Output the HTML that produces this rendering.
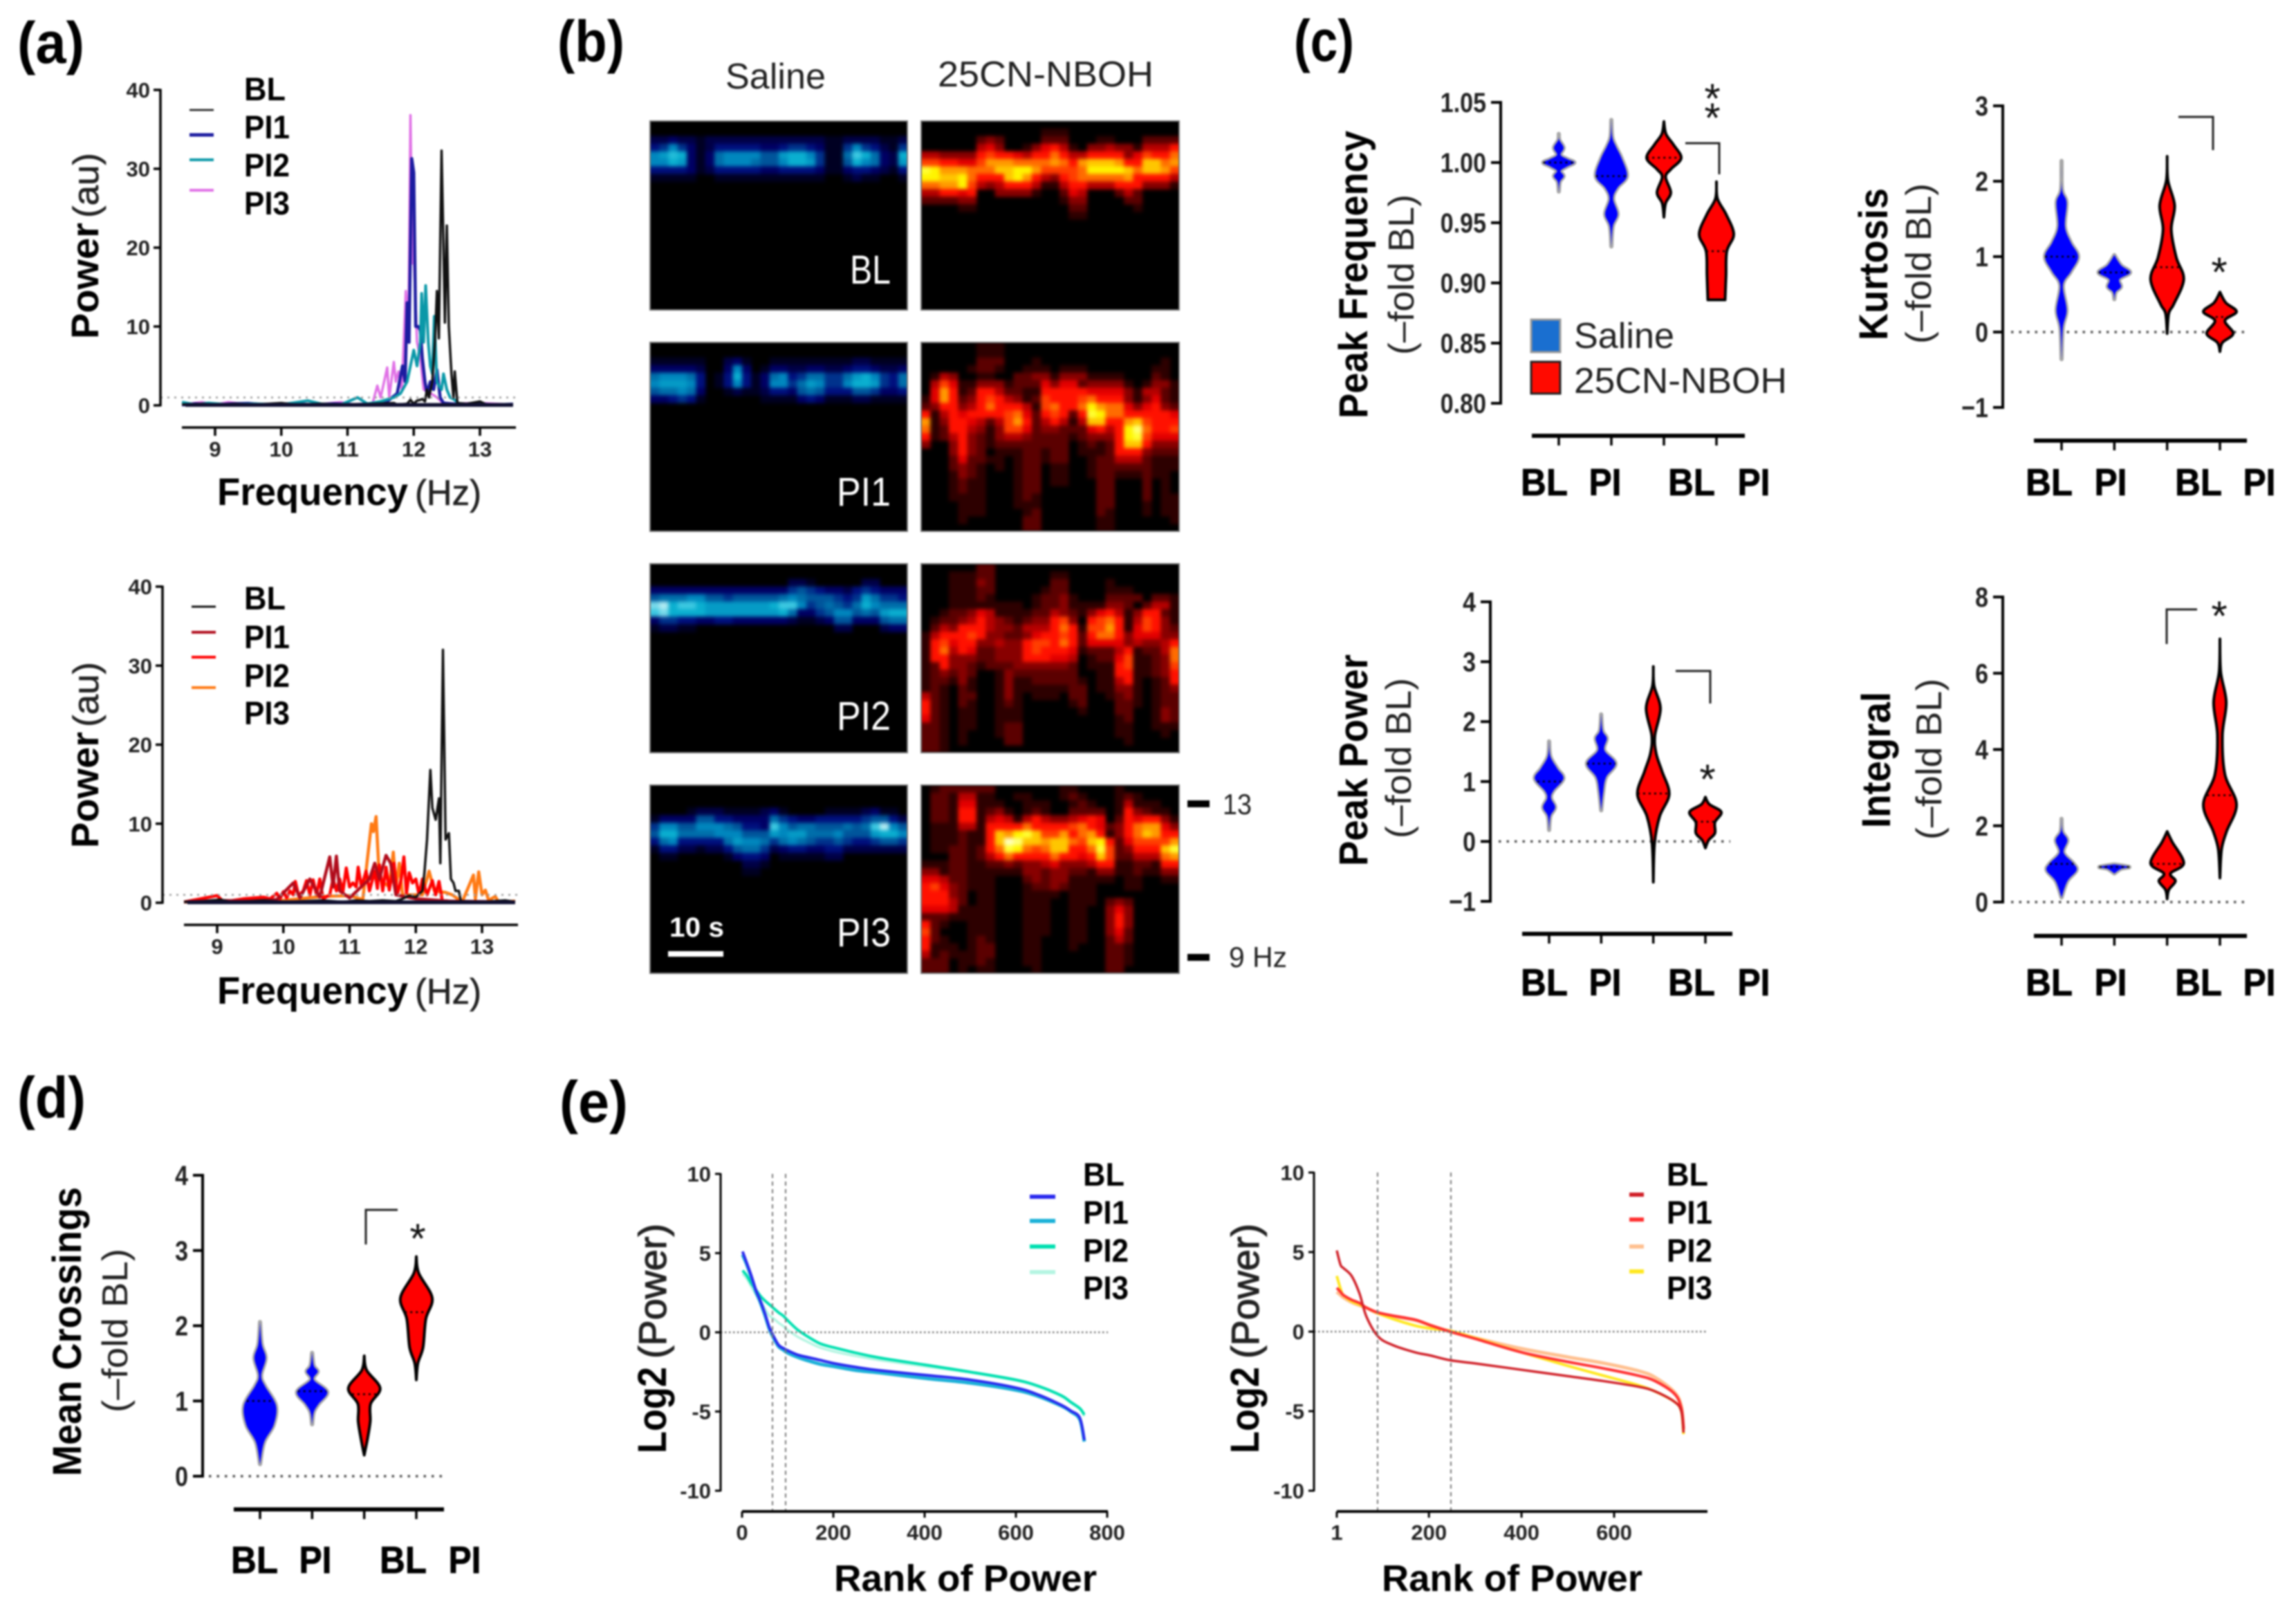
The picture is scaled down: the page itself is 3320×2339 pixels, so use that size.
<!DOCTYPE html>
<html lang="en">
<head>
<meta charset="utf-8">
<title>Spectral power figure with panels a to e</title>
<style>
html,body{margin:0;padding:0;background:#fff;}
#figure{display:block;width:3320px;height:2339px;background:#fff;filter:blur(1.2px);}
text{font-family:"Liberation Sans",sans-serif;}
</style>
</head>
<body>
<svg id="figure" xmlns="http://www.w3.org/2000/svg" width="3320" height="2339" viewBox="0 0 3320 2339"></svg>
<script>
/* ---------- panel (a) spectra: [frequency Hz, power au] ---------- */
const freqTicks = [9,10,11,12,13];
const powerTicks = [0,10,20,30,40];
const a1BL = [[8.5,.1],[8.8,.2],[9,.1],[9.3,.2],[9.6,.1],[10,.3],[10.2,.1],[10.6,.2],[11,.1],[11.4,.2],[11.7,.3],[11.75,.1],[11.9,.2],[11.95,.7],[12,.2],[12.05,.6],[12.1,.7],[12.13,.8],[12.17,.5],[12.2,2],[12.23,1],[12.28,3],[12.32,8],[12.35,14.5],[12.38,8.5],[12.42,32.3],[12.45,20],[12.47,10.5],[12.5,22.8],[12.53,10],[12.57,4],[12.6,1],[12.62,4.3],[12.66,.3],[12.8,.2],[13,.5],[13.1,.1],[13.5,.1]];
const a1PI1 = [[8.5,.05],[8.7,.2],[9,.05],[9.25,.2],[9.5,.25],[9.8,.05],[10.1,.2],[10.5,.1],[10.8,.2],[11.1,.1],[11.4,.2],[11.6,.5],[11.75,1.5],[11.83,5],[11.87,3],[11.9,13],[11.93,8],[11.97,31.3],[12,29.5],[12.03,10],[12.07,10],[12.1,9.5],[12.13,6],[12.17,3],[12.2,1.5],[12.25,3],[12.3,2],[12.35,4.5],[12.4,1],[12.45,.3],[12.7,.1],[13,.2],[13.2,.05],[13.5,.15]];
const a1PI2 = [[8.5,.4],[8.7,.1],[8.9,.3],[9.2,.1],[9.6,.2],[10,.1],[10.4,.6],[10.6,.2],[10.9,.1],[11.15,1],[11.3,.2],[11.5,.5],[11.7,1],[11.8,1.5],[11.9,3],[11.95,5],[12,7],[12.05,5],[12.1,8],[12.12,14.2],[12.15,8],[12.18,15.2],[12.22,8],[12.25,5],[12.28,4],[12.31,11.3],[12.35,3],[12.38,2.5],[12.42,2],[12.45,4],[12.5,2],[12.55,1],[12.6,.8],[12.7,.1],[13.5,.1]];
const a1PI3 = [[8.5,.1],[8.8,.4],[9,.1],[9.2,.4],[9.5,.1],[10,.2],[10.5,.1],[10.9,.4],[11.1,.1],[11.38,.3],[11.45,2.5],[11.5,1],[11.6,4.8],[11.63,1],[11.7,5.5],[11.73,3],[11.77,4.3],[11.82,2],[11.88,14.5],[11.92,10],[11.95,36.8],[11.98,18],[12,19],[12.05,8],[12.1,6],[12.15,2],[12.3,1.3],[12.35,1],[12.45,.2],[13,.3],[13.5,.1]];
const a2BL = [[8.5,.1],[8.8,.2],[9.05,.4],[9.2,.1],[9.5,.2],[9.7,.3],[10,.1],[10.3,.2],[10.6,.3],[10.9,.1],[11.1,.3],[11.3,.2],[11.5,.3],[11.7,.2],[11.8,.5],[11.9,.9],[12,.7],[12.1,1.5],[12.13,3.8],[12.17,8],[12.22,16.8],[12.25,12],[12.3,10.5],[12.35,13.2],[12.37,5],[12.41,32],[12.45,8],[12.5,8.8],[12.53,3],[12.57,2.5],[12.6,1.5],[12.65,1.5],[12.68,.2],[13,.1],[13.35,.3],[13.5,.1]];
const a2PI1 = [[8.5,.1],[9,.3],[9.5,.2],[9.9,.4],[10.15,2.5],[10.25,.6],[10.4,3],[10.55,.7],[10.7,5.8],[10.75,2],[10.8,5.9],[10.85,1.5],[11,.6],[11.3,3],[11.38,5],[11.45,3],[11.55,6],[11.62,5],[11.7,1],[12,.5],[12.5,.2],[13.5,.1]];
const a2PI2 = [[8.5,.1],[9,.9],[9.1,.1],[9.4,.5],[9.7,.7],[9.8,.5],[9.9,1.2],[9.95,.5],[10,1.4],[10.05,.6],[10.1,1.5],[10.15,1],[10.18,2.7],[10.23,.9],[10.3,1.5],[10.35,2.8],[10.4,1],[10.45,2.9],[10.5,1],[10.55,3],[10.6,.5],[10.7,1],[10.75,3],[10.8,1.5],[10.85,3],[10.9,1.4],[10.95,4.4],[11,2],[11.05,2.5],[11.1,2],[11.13,4.5],[11.18,2],[11.25,4],[11.3,1.5],[11.38,4],[11.42,1.8],[11.45,4.8],[11.5,1.5],[11.55,4.5],[11.6,1.6],[11.67,5],[11.72,1],[11.78,3],[11.82,5.8],[11.86,1.2],[11.9,3.8],[11.95,2.5],[12,3],[12.05,1],[12.1,3],[12.17,1],[12.25,2.8],[12.3,1],[12.35,2.7],[12.4,.3],[12.6,.1],[13.5,.1]];
const a2PI3 = [[8.5,.1],[9.5,.3],[10,.3],[10.6,.8],[11,.9],[11.2,.4],[11.33,10],[11.36,9],[11.4,10.9],[11.45,3],[11.6,2],[11.66,6.4],[11.7,2],[11.75,5],[11.8,1],[12.1,1],[12.2,4],[12.28,1.5],[12.45,1.3],[12.55,1],[12.7,.1],[12.87,3.5],[12.9,.5],[12.95,3.9],[13,1],[13.05,1.6],[13.1,.3],[13.2,.8],[13.25,.1],[13.5,.2]];

/* ---------- panel (b) spectrograms, hex level per cell ---------- */
const salineBL = ["","",
"2232 2122 2222 2222 2221 1222 2112","4585 3124 4444 3345 5431 1585 4215","89ba 3137 8888 669a a851 17ca 732a","88a9 3137 8887 668a a951 16a8 7329","4444 3124 4444 3344 4431 1344 3214","1111 1001 1111 1111 1110 0121 1001"];
const salinePI1 = ["","",
"1111 1100 2310 0111 1111 1122 1111","3333 3200 3830 1332 2332 2344 3223","7888 7401 4a41 3784 5775 579a 8547","8999 8401 4841 3885 7985 58aa 9547","6778 7300 1211 2443 6764 4466 5334","3345 4100 0000 1111 3431 1122 1111"];
const salinePI2 = ["","",
"0000 0000 0000 0002 2100 0002 2000","3333 3333 3333 3335 6543 3245 4333","6777 8866 5666 6678 7666 5459 7554","deac ca99 9999 9acc 8567 657a 8777","cdaa aa99 9999 99a7 3356 8867 69aa","3554 4334 4333 3332 1123 6633 3677","1221 1000 0000 0000 0000 2200 0233"];
const salinePI3 = ["","","",
"0000 1222 1111 2310 0001 1112 3110","1333 3664 4333 3754 3344 4445 6642","5886 6888 7644 3c86 7766 6767 ce86","6aa7 7778 8866 6989 9777 8666 9aa8","4784 4444 7988 7578 7655 6544 5665","1442 2122 4677 5234 4334 4222 2222","0110 0000 1344 3011 1112 2000 0000","0000 0000 0022 1000 0000 0000 0000","0000 0000 0011 0000 0000 0000 0000"];
const drugBL = ["",
"0000 0000 0000 0111 0000 0000 0000","0000 0023 2000 0222 0001 1000 2222","0000 0045 3001 3564 1033 4331 4446","4433 3367 6654 6686 4466 6635 7668","7766 5579 9988 8898 69aa a966 aa89","cb99 9888 aabb 9777 78bb bba8 aa97","bbaa b866 6ab9 6436 7888 8896 6664","8899 b743 4666 4114 6644 4666 3331","4466 5600 3333 1002 5400 0242 0000","2222 3300 0000 0001 3300 0022 0000","0000 1100 0000 0000 2200 0001 0000","0000 0000 0000 0000 1100 0000 0000"];
const drugPI1 = [
"0000 0011 1000 0000 0000 0000 0000","0000 0011 1000 0000 0000 0000 0000","0000 0022 2000 1000 0000 0000 0010","0000 0122 1001 1101 1100 0000 0110","0143 0011 0022 3313 3311 1100 0210","0475 1133 3122 2535 5233 3310 1331","0596 1266 4221 1666 6655 5531 4421","1596 2367 6431 2766 6786 6631 3521","2366 3468 6664 1786 68b9 8853 5632","6146 5666 6785 2676 26cb 8866 6665","9136 6542 4796 2464 14aa 669a 7666","8126 6431 3775 2332 2256 46bd 8667","6124 6321 3443 2222 1233 36bc 7555","3003 6321 2222 2222 0121 26aa 6333","0003 6320 1112 2122 0111 2666 3222","0002 5221 1012 2122 0012 2444 2111","0002 3210 1012 2011 0012 2222 2111","0001 3210 0012 2011 0012 2111 2110","0001 2110 0012 2011 0002 2000 2010","0001 2110 0012 2000 0002 2000 2010","0001 1110 0012 1000 0002 2000 2011","0000 1110 0011 1000 0002 2000 1011","0000 1110 0001 2000 0002 1000 1011","0000 1000 0002 2000 0001 1000 0001","0000 0000 0002 2000 0001 1000 0000"];
const drugPI2 = [
"0000 0022 0000 0000 0000 0000 0000","0001 1122 0000 0011 0000 0000 0000","0001 1132 0000 0022 0000 1000 0000","0001 1122 0000 0122 0000 1110 0000","0001 1121 0000 1223 1000 2222 0221","0001 1111 1110 1223 1111 3320 2441","0012 2354 1111 2243 2135 6413 6621","0122 3464 3212 3367 3067 8614 7631","0243 6664 3324 4468 6177 9615 7632","1466 6763 3223 5667 6268 8635 5533","1675 6633 4336 7768 6255 5534 3346","1684 6522 3336 7666 5122 2461 2248","1663 3322 3336 6655 4012 2571 1238","1263 3212 2233 3333 2011 1671 1237","1232 3200 1322 2222 2001 1661 1236","1221 3100 1311 2222 2101 1461 0126","1210 2100 1311 1111 2201 1331 0123","4210 2200 1310 1110 2200 1231 0122","6210 2100 1210 0000 1200 0221 0122","6210 1100 1110 0000 0100 0220 0132","5210 1100 1110 0000 0000 0120 0132","2210 1100 1220 0000 0000 0110 0111","2210 1000 1220 0000 0000 0110 0010","2210 1000 0220 0000 0000 0010 0000","2210 0000 0000 0000 0000 0000 0000"];
const drugPI3 = [
"0122 2222 0000 0001 1000 0100 0000","0221 4411 0011 0001 2100 0121 0000","0221 5511 1001 1100 1210 0141 1100","0221 6612 3101 2100 2222 0163 2110","0221 6614 5414 6433 4565 0265 6631","0111 4416 6668 6666 7865 2368 9953","0111 2116 a9bc a779 6896 1368 a966","0111 2116 aeda a9aa 87ab 6257 7779","0112 2126 8cb8 78aa 668c 7236 66ac","0002 2124 6866 6686 656a 7224 4489","1112 2112 2323 3453 3346 6112 2166","3312 2111 1113 3233 2213 3112 1133","5542 2111 0002 3233 1111 1011 0011","6753 2111 0001 2232 1110 0011 0000","6663 2011 0001 1110 1110 0000 0000","6664 2011 0001 1100 1110 2320 0000","5554 1111 0001 1100 1100 3530 0000","2221 1111 0001 1100 1100 3630 0000","6210 0111 0001 1100 1100 3630 0000","7200 0111 0001 1100 1100 3520 0000","6210 0121 0001 1000 1100 2420 0000","6111 0122 0001 1000 1000 2210 0000","4121 1122 0001 1000 0000 2210 0000","2220 1121 0001 1000 0000 2210 0000","2220 1011 0000 1000 0000 2200 0000"];

/* ---------- violin data: sampled value + relative density per group ---------- */
const groupLabels = ["BL","PI","BL","PI"];
const freqFoldTicks = ["0.80","0.85","0.90","0.95","1.00","1.05"];
const freqFoldTickValues = [.8,.85,.9,.95,1,1.05];
const peakFreqValues = [
 [1.0238,1.0187,1.0123,1.0064,1.0028,1,.9969,.9931,.9887,.984,.9759],
 [1.0354,1.0213,1.0136,1.0033,.9887,.979,.97,.9572,.9469,.9303],
 [1.0341,1.0238,1.0149,1.0038,.9944,.988,.9751,.9662,.9546],
 [.9841,.97,.9572,.9405,.9264,.9059,.8859]];
const peakFreqDensity = [
 [0,.03,.28,.1,.5,.9,.5,.1,.28,.06,0],
 [0,.05,.25,.6,.9,.35,.1,.36,.08,0],
 [0,.12,.55,1,.4,.1,.4,.1,0],
 [0,.06,.55,1,.6,.55,.5]];
const peakFreqMedians = [1,.9887,1.004,.9264];

const kurtosisTicks = ["−1","0","1","2","3"];
const kurtosisTickValues = [-1,0,1,2,3];
const kurtosisValues = [
 [2.27,1.89,1.72,1.4,1.19,1,.8,.62,.29,.05,-.36],
 [1.02,.885,.79,.7,.6,.53,.435],
 [2.33,2.01,1.68,1.36,.99,.7,.37,.25,-.02],
 [.53,.39,.27,.15,-.02,-.14,-.26]];
const kurtosisDensity = [
 [0,.03,.3,.2,.55,1,.55,.08,.3,.07,0],
 [0,.4,.95,.3,.4,.08,0],
 [0,.05,.45,.25,.55,1,.4,.1,0],
 [0,.35,1,.3,.8,.15,0]];
const kurtosisMedians = [1,.79,.86,.2];

const peakPowerTicks = ["−1","0","1","2","3","4"];
const peakPowerTickValues = [-1,0,1,2,3,4];
const peakPowerValues = [
 [1.67,1.42,1.22,1.05,.84,.72,.57,.42,.19],
 [2.12,1.85,1.72,1.52,1.3,1.07,.82,.52],
 [2.92,2.6,2.22,1.77,1.47,1.17,.79,.42,-.03,-.68],
 [.74,.62,.49,.32,.14,.02,-.11]];
const peakPowerDensity = [
 [0,.08,.5,.9,.25,.12,.38,.08,0],
 [0,.08,.35,.2,.9,.3,.12,0],
 [0,.05,.45,.1,.18,.55,1,.4,.08,0],
 [0,.25,1,.6,.6,.2,0]];
const peakPowerMedians = [1,1.3,.8,.33];

const integralTicks = ["0","2","4","6","8"];
const integralTickValues = [0,2,4,6,8];
const integralValues = [
 [2.18,1.85,1.62,1.3,1.02,.83,.55,.12],
 [.985,.92,.87,.75],
 [1.85,1.58,1.02,.75,.55,.32,.08],
 [6.9,6.03,5.24,4.37,3.35,2.56,1.85,1.38,.63]];
const integralDensity = [
 [0,.05,.35,.12,.7,.9,.35,0],
 [.05,.9,.4,0],
 [0,.3,1,.2,.5,.1,0],
 [0,.05,.38,.15,.3,1,.4,.1,0]];
const integralMedians = [1,.92,1,2.8];

const crossingsTicks = ["0","1","2","3","4"];
const crossingsTickValues = [0,1,2,3,4];
const crossingsValues = [
 [2.05,1.76,1.57,1.34,1.2,.94,.68,.45,.16],
 [1.64,1.47,1.39,1.28,1.12,.96,.85,.69],
 [1.6,1.41,1.17,.96,.73,.49,.28],
 [2.92,2.7,2.37,2.09,1.71,1.5,1.28]];
const crossingsDensity = [
 [0,.1,.35,.07,.3,1,.85,.25,0],
 [0,.1,.35,.1,.95,.4,.1,0],
 [0,.15,1,.4,.38,.2,0],
 [0,.15,1,.6,.42,.1,0]];
const crossingsMedians = [1,1.13,1.09,2.18];

/* ---------- panel (e) ranked power ---------- */
const log2Ticks = ["-10","-5","0","5","10"];
const log2TickValues = [-10,-5,0,5,10];
const salineRankTicks = [0,200,400,600,800];
const drugRankTicks = [1,200,400,600];
const salineRanks = [1,10,20,30,40,50,60,70,80,90,100,120,140,170,200,250,300,400,500,600,650,700,720,740,750];
const salineRankBL = [5.1,4.4,3.6,2.7,2,1.2,.3,-.3,-.8,-1,-1.15,-1.4,-1.55,-1.75,-1.95,-2.2,-2.4,-2.7,-3,-3.5,-3.95,-4.6,-4.95,-5.4,-6.8];
const salineRankPI1 = [4.9,4.3,3.5,2.6,1.9,1.1,.2,-.4,-.9,-1.1,-1.3,-1.55,-1.75,-2,-2.15,-2.4,-2.55,-2.9,-3.2,-3.65,-4.05,-4.65,-5,-5.5,-6.9];
const salineRankPI2 = [3.9,3.6,3.1,2.7,2.3,2,1.75,1.5,1.25,1.05,.75,.2,-.2,-.7,-.95,-1.3,-1.6,-2.05,-2.5,-3,-3.4,-4,-4.4,-4.8,-5.2];
const salineRankPI3 = [3.7,3.4,2.9,2.4,2,1.5,1.05,.85,.6,.4,.15,-.25,-.55,-.95,-1.2,-1.5,-1.75,-2.15,-2.55,-3.05,-3.45,-4.05,-4.45,-4.85,-5.3];
const drugRanks = [1,9,15,33,50,65,90,122,170,203,246,300,400,500,575,650,688,730,745,750];
const drugRankBL = [5.1,4.2,4,3.5,2.4,.95,-.3,-.85,-1.3,-1.5,-1.8,-2,-2.4,-2.8,-3.1,-3.45,-3.75,-4.4,-5,-6.35];
const drugRankPI1 = [2.75,2.5,2.3,2,1.8,1.5,1.2,1,.75,.4,0,-.45,-1.3,-1.9,-2.3,-2.75,-3.1,-3.9,-4.8,-6.1];
const drugRankPI2 = [2.5,2.3,2.15,1.85,1.65,1.5,1.15,.95,.72,.4,0,-.4,-1.07,-1.6,-1.97,-2.45,-2.87,-3.8,-4.7,-6.2];
const drugRankPI3 = [3.5,2.7,2.3,1.9,1.7,1.5,1.15,.8,.38,.2,.05,-.4,-1.3,-2.15,-2.75,-3.35,-3.75,-4.4,-5,-6.45];

/* ---------- helpers ---------- */
const NS = "http://www.w3.org/2000/svg";
const root = document.getElementById("figure");
function mk(tag, attrs, name, parent) {
  const el = document.createElementNS(NS, tag);
  for (const k in attrs) el.setAttribute(k, attrs[k]);
  
  
  (parent || root).appendChild(el);
  return el;
}
function txt(str, x, y, name, o) {
  o = o || {};
  const a = {x: x, y: y, "font-size": o.size || 30, "font-weight": o.weight || "normal", fill: o.fill || "#000", "text-anchor": o.anchor || "start"};
  if (o.rot) a.transform = "rotate(" + o.rot + " " + x + " " + y + ")";
  if (o.len) { a.textLength = o.len; a.lengthAdjust = "spacingAndGlyphs"; }
  if (o.heavy) { a.stroke = o.fill || "#000"; a["stroke-width"] = o.heavy; }
  const el = mk("text", a, name, o.parent);
  el.textContent = str;
  return el;
}
function line(x1, y1, x2, y2, name, o) {
  o = o || {};
  const a = {x1: x1, y1: y1, x2: x2, y2: y2, stroke: o.stroke || "#000", "stroke-width": o.w || 3};
  if (o.dash) a["stroke-dasharray"] = o.dash;
  return mk("line", a, name, o.parent);
}
function lin(d0, d1, r0, r1) { return function (v) { return r0 + (v - d0) * (r1 - r0) / (d1 - d0); }; }
function smooth(pts) {
  let d = "M" + pts[0][0].toFixed(1) + " " + pts[0][1].toFixed(1);
  for (let i = 0; i < pts.length - 1; i++) {
    const p0 = pts[i - 1] || pts[i], p1 = pts[i], p2 = pts[i + 1], p3 = pts[i + 2] || p2;
    d += "C" + (p1[0] + (p2[0] - p0[0]) / 6).toFixed(1) + " " + (p1[1] + (p2[1] - p0[1]) / 6).toFixed(1) + " " +
      (p2[0] - (p3[0] - p1[0]) / 6).toFixed(1) + " " + (p2[1] - (p3[1] - p1[1]) / 6).toFixed(1) + " " +
      p2[0].toFixed(1) + " " + p2[1].toFixed(1);
  }
  return d;
}
function star(cx, cy) {
  txt("*", cx, cy + 29, "significance-star", {size: 60, anchor: "middle", fill: "#111"});
}
function labelWidth(str) {
  let w = 0;
  for (const ch of str) w += ch === "." ? 9.5 : ch === "−" ? 19.9 : 18.9;
  return w;
}

/* panel letters */
txt("(a)", 25, 91, "panel-label-a", {size: 84, weight: "bold", len: 97});
txt("(b)", 806, 89, "panel-label-b", {size: 84, weight: "bold", len: 97});
txt("(c)", 1871, 88, "panel-label-c", {size: 84, weight: "bold", len: 87});
txt("(d)", 25, 1616, "panel-label-d", {size: 84, weight: "bold", len: 99});
txt("(e)", 809, 1622, "panel-label-e", {size: 84, weight: "bold", len: 99});

/* ---------- panel a ---------- */
function spectrum(c) {
  const g = mk("g", {}, c.id, root);
  const X = lin(9, 13, c.x9, c.x9 + 383), Y = lin(0, 40, c.y0, c.y40);
  c.series.forEach(function (s) {
    const pts = s.data.map(function (p) { return X(p[0]).toFixed(1) + "," + Y(p[1]).toFixed(1); }).join(" ");
    mk("polyline", {points: pts, fill: "none", stroke: s.color, "stroke-width": s.w, "stroke-linejoin": "round"}, "spectrum-line-" + s.label.toLowerCase(), g);
  });
  line(X(8.55), Y(0.05), X(13.5), Y(0.05), "spectrum-baseline", {stroke: "#101030", w: 5.5, parent: g});
  line(c.ax, Y(1), c.xEnd, Y(1), "threshold-dotted-line", {stroke: "#9a9a9a", w: 2.5, dash: "3 7", parent: g});
  line(c.ax, c.y40 - 1.5, c.ax, c.y0 + 1.5, "y-axis-line", {w: 3.5, parent: g});
  powerTicks.forEach(function (t) {
    line(c.ax - 10, Y(t), c.ax, Y(t), "y-axis-tick", {w: 3.5, parent: g});
    txt(String(t), c.ax - 15, Y(t) + 11, "y-tick-label", {size: 31, weight: "bold", anchor: "end", fill: "#222", parent: g});
  });
  line(c.x9 - 48, c.xAxisY, c.xEnd, c.xAxisY, "x-axis-line", {w: 3.5, parent: g});
  freqTicks.forEach(function (t) {
    line(X(t), c.xAxisY, X(t), c.xAxisY + 12, "x-axis-tick", {w: 3.5, parent: g});
    txt(String(t), X(t), c.xAxisY + 42, "x-tick-label", {size: 31, weight: "bold", anchor: "middle", fill: "#222", parent: g});
  });
  txt("Power", 142, c.titleY, "y-axis-title", {size: 56, weight: "bold", rot: -90, len: 168, parent: g});
  txt("(au)", 142, c.titleY - 175, "y-axis-unit", {size: 52, rot: -90, len: 94, fill: "#222", heavy: .6, parent: g});
  txt("Frequency", 314, c.labelY, "x-axis-title", {size: 56, weight: "bold", len: 276, parent: g});
  txt("(Hz)", 600, c.labelY, "x-axis-unit", {size: 52, len: 96, fill: "#222", heavy: .6, parent: g});
  c.series.forEach(function (s) {
    txt(s.label, 353, s.ty, "legend-entry", {size: 47, weight: "bold", len: s.label === "BL" ? 60 : 66, parent: g});
    line(c.legX, s.ly, c.legX + 35, s.ly, "legend-swatch", {stroke: s.color, w: s.lw, parent: g});
  });
}
spectrum({id: "spectrum-saline", x9: 311, y0: 586, y40: 130, ax: 232, xEnd: 746, xAxisY: 618, titleY: 490, labelY: 730, legX: 274, series: [
  {label: "PI3", data: a1PI3, color: "#e070e6", w: 3.5, ty: 310, ly: 275, lw: 4},
  {label: "PI1", data: a1PI1, color: "#1c1ca0", w: 4.5, ty: 200, ly: 195, lw: 5},
  {label: "PI2", data: a1PI2, color: "#0a98a8", w: 4, ty: 255, ly: 231, lw: 4},
  {label: "BL", data: a1BL, color: "#111", w: 3.5, ty: 145, ly: 159, lw: 2.5}]});
spectrum({id: "spectrum-drug", x9: 314, y0: 1305, y40: 848, ax: 235, xEnd: 749, xAxisY: 1337, titleY: 1226, labelY: 1451, legX: 277, series: [
  {label: "PI3", data: a2PI3, color: "#ff7a14", w: 4.5, ty: 1047, ly: 994, lw: 4},
  {label: "PI2", data: a2PI2, color: "#ff0000", w: 4.5, ty: 993, ly: 950, lw: 4},
  {label: "PI1", data: a2PI1, color: "#b00c1c", w: 4.5, ty: 937, ly: 914, lw: 4},
  {label: "BL", data: a2BL, color: "#111", w: 3.5, ty: 881, ly: 877, lw: 3}]});

/* ---------- panel b ---------- */
const blueStops = ["0,0,0","0,0,34","0,0,70","0,0,100","0,15,125","0,50,140","0,85,155","0,110,170","0,135,190","5,155,198","10,175,208","35,188,216","60,200,225","120,218,234","175,234,242","215,246,250"];
function hotColor(i) {
  const v = i / 15;
  const r = Math.min(1, v / .375), g = Math.max(0, Math.min(1, (v - .375) / .375)), b = Math.max(0, (v - .75) / .25);
  return "rgb(" + Math.round(r * 255) + "," + Math.round(g * 255) + "," + Math.round(b * 255) + ")";
}
function blueColor(i) { return "rgb(" + blueStops[i] + ")"; }
function heatmap(rows, x, y, w, h, colorFn, name) {
  const clip = mk("clipPath", {id: name + "-clip"}, name + "-clip", root);
  mk("rect", {x: x, y: y, width: w, height: h}, name + "-clip-rect", clip);
  const g = mk("g", {"clip-path": "url(#" + name + "-clip)"}, name, root);
  mk("rect", {x: x, y: y, width: w, height: h, fill: "#000"}, "heatmap-background", g);
  const cells = mk("g", {style: "filter:blur(2.6px)"}, "heatmap-cells", g);
  const cw = w / 28, ch = h / 25;
  rows.forEach(function (row, j) {
    const levels = row.replace(/ /g, "");
    for (let i = 0; i < levels.length; i++) {
      const level = parseInt(levels[i], 16);
      if (!level) continue;
      const edgeL = i === 0 ? 6 : 0, edgeR = i === 27 ? 6 : 0;
      mk("rect", {x: (x + i * cw - edgeL).toFixed(1), y: (y + j * ch).toFixed(1), width: (cw + .5 + edgeL + edgeR).toFixed(1), height: (ch + .5).toFixed(1), fill: colorFn(level)}, "heatmap-cell", cells);
    }
  });
  mk("rect", {x: x, y: y, width: w, height: h, fill: "none", stroke: "#777", "stroke-width": 2}, "heatmap-frame", root);
}
const rowTops = [175, 495, 815, 1135];
const rowHeights = [273, 273, 273, 272];
[salineBL, salinePI1, salinePI2, salinePI3].forEach(function (m, k) {
  heatmap(m, 940, rowTops[k], 372, rowHeights[k], blueColor, "saline-spectrogram-" + k);
});
[drugBL, drugPI1, drugPI2, drugPI3].forEach(function (m, k) {
  heatmap(m, 1332, rowTops[k], 373, rowHeights[k], hotColor, "drug-spectrogram-" + k);
});
txt("Saline", 1049, 128, "column-title-saline", {size: 52, len: 145, fill: "#222"});
txt("25CN-NBOH", 1356, 125, "column-title-drug", {size: 52, len: 312, fill: "#222"});
txt("BL", 1229, 410, "row-label-bl", {size: 58, len: 59, fill: "#fff"});
txt("PI1", 1210, 731, "row-label-pi1", {size: 58, len: 78, fill: "#fff"});
txt("PI2", 1210, 1055, "row-label-pi2", {size: 58, len: 78, fill: "#fff"});
txt("PI3", 1210, 1368, "row-label-pi3", {size: 58, len: 78, fill: "#fff"});
txt("10 s", 968, 1354, "time-scale-label", {size: 40, weight: "bold", len: 79, fill: "#fff"});
mk("rect", {x: 966, y: 1375, width: 80, height: 8, fill: "#fff"}, "time-scale-bar", root);
mk("rect", {x: 1717, y: 1157, width: 32, height: 10, fill: "#000"}, "frequency-mark-13", root);
mk("rect", {x: 1717, y: 1379, width: 32, height: 10, fill: "#000"}, "frequency-mark-9", root);
txt("13", 1768, 1177, "frequency-label-13", {size: 42, len: 42, fill: "#222"});
txt("9 Hz", 1777, 1398, "frequency-label-9", {size: 42, len: 84, fill: "#222"});

/* ---------- violin panels ---------- */
function violinPanel(c) {
  const g = mk("g", {}, c.id, root);
  const Y = lin(c.tickValues[0], c.tickValues[c.tickValues.length - 1], c.yBottom, c.yTop);
  const X = lin(0, 3, c.x0, c.x3);
  if (c.dotFrom) line(c.dotFrom, Y(0), c.dotTo, Y(0), "zero-dotted-line", {stroke: "#555", w: 3.5, dash: "3.5 8", parent: g});
  c.values.forEach(function (vals, i) {
    const cx = X(i), dens = c.density[i];
    const left = vals.map(function (v, k) { return [cx - dens[k] * c.hw, Y(v)]; });
    const right = vals.map(function (v, k) { return [cx + dens[k] * c.hw, Y(v)]; }).reverse();
    const d = smooth(left) + smooth(right).replace("M", "L") + "Z";
    const blue = i < 2;
    mk("path", {d: d, fill: blue ? "#0000ff" : "#ff0000", stroke: blue ? "#a8a8a8" : "#000", "stroke-width": blue ? 6 : 4, "paint-order": blue ? "stroke" : "normal", "stroke-linejoin": "round"}, blue ? "violin-saline-" + groupLabels[i].toLowerCase() : "violin-drug-" + groupLabels[i].toLowerCase(), g);
    const med = c.medians[i];
    let hw = 0;
    for (let k = 0; k < vals.length - 1; k++) {
      if (med <= vals[k] && med >= vals[k + 1]) {
        hw = (dens[k] + (dens[k + 1] - dens[k]) * (vals[k] - med) / (vals[k] - vals[k + 1])) * c.hw;
      }
    }
    line(cx - hw, Y(med), cx + hw, Y(med), "violin-median", {stroke: "#000", w: 2.5, dash: "3 5", parent: g});
  });
  line(c.ax, c.yTop - 2, c.ax, c.yBottom + 2, "y-axis-line", {w: 4, parent: g});
  c.tickValues.forEach(function (t, i) {
    line(c.ax - 14, Y(t), c.ax, Y(t), "y-axis-tick", {w: 4, parent: g});
    txt(c.ticks[i], c.ax - 21, Y(t) + 14, "y-tick-label", {size: 40, weight: "bold", anchor: "end", fill: "#222", len: labelWidth(c.ticks[i]), parent: g});
  });
  line(c.axisFrom, c.axisY, c.axisTo, c.axisY, "x-axis-line", {w: 6, parent: g});
  groupLabels.forEach(function (lab, i) {
    line(X(i), c.axisY, X(i), c.axisY + 14, "x-axis-tick", {w: 3.5, parent: g});
    txt(lab, c.labelX[i], c.labelY, "group-label-" + lab.toLowerCase(), {size: 55, weight: "bold", anchor: "middle", len: lab === "BL" ? 68 : 47, heavy: .8, parent: g});
  });
  txt(c.title, c.titleX, c.titleStart, "y-axis-title", {size: 58, weight: "bold", rot: -90, len: c.titleLen, parent: g});
  txt("(–fold BL)", c.subX + 2, c.subStart, "y-axis-subtitle", {size: 52, rot: -90, len: c.subLen || 232, fill: "#222", parent: g});
  mk("path", {d: c.bracket, fill: "none", stroke: "#222", "stroke-width": 3}, "significance-bracket", g);
}
violinPanel({id: "peak-frequency-chart", values: peakFreqValues, density: peakFreqDensity, medians: peakFreqMedians, ticks: freqFoldTicks, tickValues: freqFoldTickValues,
  yBottom: 583, yTop: 148, x0: 2254, x3: 2482, hw: 25, ax: 2170, axisFrom: 2215, axisTo: 2523, axisY: 630, labelX: [2233, 2321, 2446, 2536], labelY: 716,
  title: "Peak Frequency", titleX: 1977, titleStart: 605, titleLen: 416, subX: 2042, subStart: 513, bracket: "M2437 207H2486V252"});
violinPanel({id: "kurtosis-chart", values: kurtosisValues, density: kurtosisDensity, medians: kurtosisMedians, ticks: kurtosisTicks, tickValues: kurtosisTickValues,
  yBottom: 589, yTop: 153, x0: 2981, x3: 3210, hw: 24, ax: 2896, axisFrom: 2941, axisTo: 3249, axisY: 637, labelX: [2963, 3052, 3179, 3267], labelY: 716, dotFrom: 2908, dotTo: 3245,
  title: "Kurtosis", titleX: 2729, titleStart: 492, titleLen: 220, subX: 2790, subStart: 497, bracket: "M3150 169H3200V217"});
violinPanel({id: "peak-power-chart", values: peakPowerValues, density: peakPowerDensity, medians: peakPowerMedians, ticks: peakPowerTicks, tickValues: peakPowerTickValues,
  yBottom: 1303, yTop: 870, x0: 2240, x3: 2466, hw: 23, ax: 2155, axisFrom: 2201, axisTo: 2505, axisY: 1350, labelX: [2233, 2321, 2446, 2536], labelY: 1439, dotFrom: 2167, dotTo: 2502,
  title: "Peak Power", titleX: 1977, titleStart: 1252, titleLen: 306, subX: 2038, subStart: 1212, bracket: "M2423 970H2473V1017"});
violinPanel({id: "integral-chart", values: integralValues, density: integralDensity, medians: integralMedians, ticks: integralTicks, tickValues: integralTickValues,
  yBottom: 1304, yTop: 863, x0: 2981, x3: 3210, hw: 24, ax: 2896, axisFrom: 2941, axisTo: 3249, axisY: 1353, labelX: [2963, 3052, 3179, 3267], labelY: 1439, dotFrom: 2908, dotTo: 3245,
  title: "Integral", titleX: 2733, titleStart: 1197, titleLen: 197, subX: 2805, subStart: 1214, subLen: 233, bracket: "M3133 931V881H3177"});
violinPanel({id: "mean-crossings-chart", values: crossingsValues, density: crossingsDensity, medians: crossingsMedians, ticks: crossingsTicks, tickValues: crossingsTickValues,
  yBottom: 2134, yTop: 1699, x0: 376, x3: 602, hw: 23, ax: 293, axisFrom: 338, axisTo: 642, axisY: 2182, labelX: [368, 456, 583, 672], labelY: 2274, dotFrom: 302, dotTo: 640,
  title: "Mean Crossings", titleX: 117, titleStart: 2134, titleLen: 418, subX: 182, subStart: 2042, subLen: 237, bracket: "M529 1799V1749H575"});
star(2476, 134); star(2476, 162); star(3209, 385); star(2469, 1118); star(3209, 882); star(604, 1782);

/* panel c legend */
mk("rect", {x: 2214, y: 462, width: 42, height: 47, fill: "#1a6fd0", stroke: "#999", "stroke-width": 3}, "legend-swatch-saline", root);
mk("rect", {x: 2214, y: 523, width: 42, height: 46, fill: "#ff0a00", stroke: "#222", "stroke-width": 3}, "legend-swatch-drug", root);
txt("Saline", 2276, 503, "legend-entry-saline", {size: 52, len: 145, fill: "#222"});
txt("25CN-NBOH", 2276, 568, "legend-entry-drug", {size: 52, len: 308, fill: "#222"});

/* ---------- panel e ---------- */
function rankPanel(c) {
  const g = mk("g", {}, c.id, root);
  const Y = lin(-10, 10, 2155, c.yTop);
  const X = lin(c.rank0, c.rank1, c.x0, c.x1);
  c.series.forEach(function (s) {
    const pts = c.ranks.map(function (r, i) { return [X(r), Y(s.values[i])]; });
    mk("path", {d: smooth(pts), fill: "none", stroke: s.color, "stroke-width": s.w}, "rank-curve-" + s.label.toLowerCase(), g);
  });
  line(c.ax, Y(0), c.xEnd, Y(0), "zero-dotted-line", {stroke: "#777", w: 2.5, dash: "2.5 3.5", parent: g});
  c.cuts.forEach(function (x) {
    line(x, c.yTop, x, 2185, "rank-cutoff-line", {stroke: "#777", w: 2, dash: "6 5", parent: g});
  });
  line(c.ax, c.yTop - 1, c.ax, 2156, "y-axis-line", {w: 3, parent: g});
  log2TickValues.forEach(function (t, i) {
    line(c.ax - 8, Y(t), c.ax, Y(t), "y-axis-tick", {w: 3, parent: g});
    txt(log2Ticks[i], c.ax - 14, Y(t) + 11, "y-tick-label", {size: 31, weight: "bold", anchor: "end", fill: "#222", parent: g});
  });
  line(c.axisFrom, 2185, c.xEnd, 2185, "x-axis-line", {w: 4, parent: g});
  c.xTicks.forEach(function (t) {
    line(X(t), 2185, X(t), 2194, "x-axis-tick", {w: 3, parent: g});
    txt(String(t), X(t), 2226, "x-tick-label", {size: 31, weight: "bold", anchor: "middle", fill: "#222", parent: g});
  });
  txt("Log2", c.titleX, 2101, "y-axis-title", {size: 58, weight: "bold", rot: -90, len: 125, parent: g});
  txt("(Power)", c.titleX, 1964, "y-axis-unit", {size: 56, rot: -90, len: 195, fill: "#222", heavy: 1.2, parent: g});
  txt("Rank of Power", c.rankX, 2300, "x-axis-title", {size: 54, weight: "bold", len: c.rankLen, parent: g});
  c.series.forEach(function (s) {
    txt(s.label, c.legX, s.ty, "legend-entry", {size: 47, weight: "bold", len: s.label === "BL" ? 60 : 66, parent: g});
    line(c.swatch[0], s.ly, c.swatch[1], s.ly, "legend-swatch", {stroke: s.color, w: 6, parent: g});
  });
}
rankPanel({id: "rank-saline-chart", ranks: salineRanks, yTop: 1697, rank0: 0, rank1: 800, x0: 1073, x1: 1601, ax: 1042, xEnd: 1602, axisFrom: 1073, cuts: [1117, 1136], xTicks: salineRankTicks,
  titleX: 963, rankX: 1206, rankLen: 380, legX: 1566, swatch: [1489, 1526], series: [
  {label: "PI3", values: salineRankPI3, color: "#b4f5e2", w: 3.5, ty: 1878, ly: 1839},
  {label: "PI2", values: salineRankPI2, color: "#00e0b0", w: 4, ty: 1824, ly: 1802},
  {label: "PI1", values: salineRankPI1, color: "#1ab0d8", w: 5, ty: 1769, ly: 1765},
  {label: "BL", values: salineRankBL, color: "#2a2aee", w: 4, ty: 1714, ly: 1730}]});
rankPanel({id: "rank-drug-chart", ranks: drugRanks, yTop: 1695, rank0: 1, rank1: 600, x0: 1933, x1: 2334, ax: 1900, xEnd: 2469, axisFrom: 1933, cuts: [1992, 2098], xTicks: drugRankTicks,
  titleX: 1820, rankX: 1998, rankLen: 377, legX: 2410, swatch: [2356, 2377], series: [
  {label: "PI2", values: drugRankPI2, color: "#ffc090", w: 5, ty: 1824, ly: 1802},
  {label: "PI3", values: drugRankPI3, color: "#ffe820", w: 4, ty: 1878, ly: 1838},
  {label: "PI1", values: drugRankPI1, color: "#ff3030", w: 4, ty: 1769, ly: 1763},
  {label: "BL", values: drugRankBL, color: "#d02028", w: 3.5, ty: 1714, ly: 1727}]});
</script>
</body>
</html>
